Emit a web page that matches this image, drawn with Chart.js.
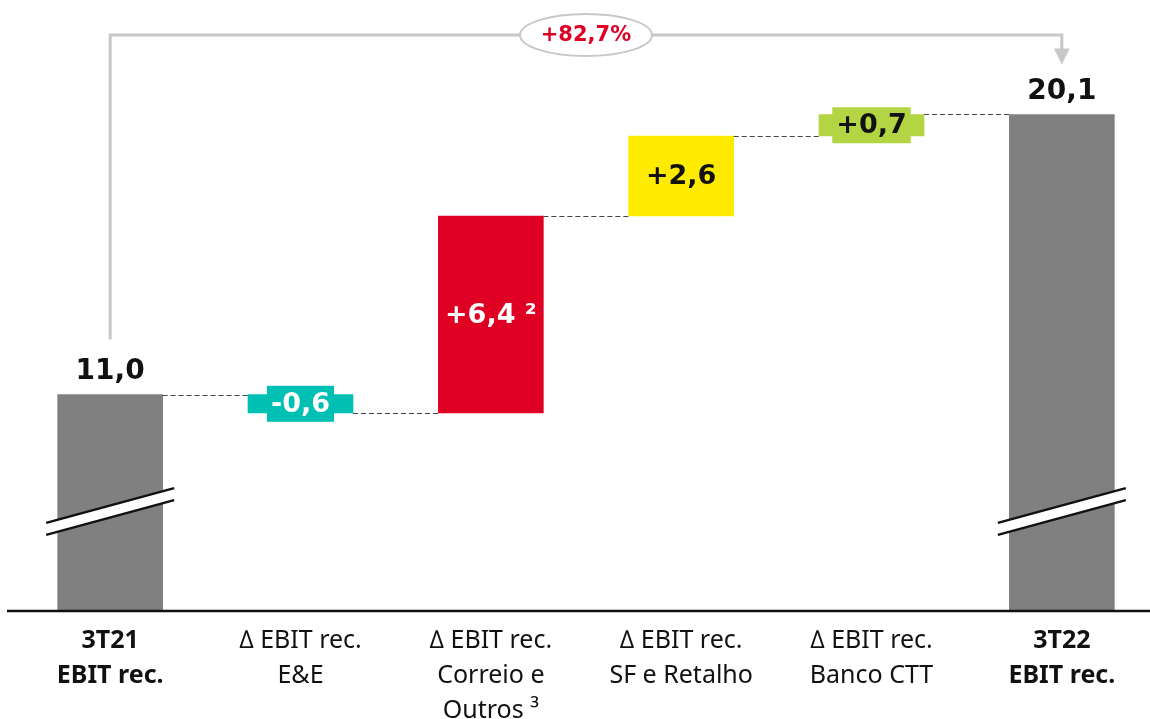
<!DOCTYPE html>
<html>
<head>
<meta charset="utf-8">
<script src="https://cdn.jsdelivr.net/npm/chart.js@4.4.1/dist/chart.umd.min.js"></script>
<style>
  html, body { margin: 0; padding: 0; background: #fff; overflow: hidden; }
  #box { width: 1150px; height: 719px; overflow: hidden; position: relative; }
  canvas { position: absolute; left: 0; top: 0; }
</style>
</head>
<body>
<div id="box"><canvas id="myChart" width="1160" height="741"></canvas></div>
<script>
  // data
  const categories = [
    ["3T21", "EBIT rec."],
    ["∆ EBIT rec.", "E&E"],
    ["∆ EBIT rec.", "Correio e", "Outros ³"],
    ["∆ EBIT rec.", "SF e Retalho"],
    ["∆ EBIT rec.", "Banco CTT"],
    ["3T22", "EBIT rec."],
  ];
  const startTotal = 11.0;
  const changes = [-0.6, 6.4, 2.6, 0.7];
  const endTotal = 20.1;
  const valueLabels = ["11,0", "-0,6", "+6,4 ²", "+2,6", "+0,7", "20,1"];
  const growthLabel = "+82,7%";
  const axisFloor = 4; // broken axis starts here
  const breakValue = 7.2;

  const barColors = ["#808080", "#00BFB3", "#E00024", "#FFEB00", "#B3D443", "#808080"];
  const labelColors = ["#111", "#fff", "#fff", "#111", "#111", "#111"];
  const boxedLabels = [false, true, false, false, true, false];

  // build floating ranges
  const ranges = [[axisFloor, startTotal]];
  let level = startTotal;
  changes.forEach((c) => {
    const next = Math.round((level + c) * 10) / 10;
    ranges.push([level, next]);
    level = next;
  });
  ranges.push([axisFloor, endTotal]);

  const FONT = "'DejaVu Sans', 'Noto Sans', sans-serif";
  const TICKFONT = "'Noto Sans', 'Open Sans', sans-serif";

  const waterfallPlugin = {
    id: "waterfall",
    afterDatasetsDraw(chart) {
      const ctx = chart.ctx;
      const meta = chart.getDatasetMeta(0);
      const y = chart.scales.y;
      const area = chart.chartArea;
      const bars = meta.data;

      ctx.save();
      // dashed connectors
      ctx.strokeStyle = "#444";
      ctx.lineWidth = 1;
      ctx.setLineDash([5, 3]);
      for (let i = 0; i < bars.length - 1; i++) {
        const lv = ranges[i][1];
        const py = Math.round(y.getPixelForValue(lv)) + 0.5;
        ctx.beginPath();
        ctx.moveTo(bars[i].x + bars[i].width / 2, py);
        ctx.lineTo(bars[i + 1].x - bars[i + 1].width / 2, py);
        ctx.stroke();
      }
      ctx.setLineDash([]);

      // axis line
      ctx.strokeStyle = "#111";
      ctx.lineWidth = 2.5;
      ctx.beginPath();
      ctx.moveTo(7, area.bottom + 1);
      ctx.lineTo(1150, area.bottom + 1);
      ctx.stroke();

      // break marks on total bars
      [0, bars.length - 1].forEach((i) => {
        const b = bars[i];
        const cy = y.getPixelForValue(breakValue);
        const dx = 64, slope = 0.271, gap = 6;
        const x0 = b.x - dx, x1 = b.x + dx;
        const yA0 = cy - gap + dx * slope, yA1 = cy - gap - dx * slope;
        const yB0 = cy + gap + dx * slope, yB1 = cy + gap - dx * slope;
        ctx.fillStyle = "#fff";
        ctx.beginPath();
        ctx.moveTo(x0, yA0); ctx.lineTo(x1, yA1); ctx.lineTo(x1, yB1); ctx.lineTo(x0, yB0);
        ctx.closePath();
        ctx.fill();
        ctx.strokeStyle = "#111";
        ctx.lineWidth = 2.5;
        ctx.beginPath();
        ctx.moveTo(x0, yA0); ctx.lineTo(x1, yA1);
        ctx.moveTo(x0, yB0); ctx.lineTo(x1, yB1);
        ctx.stroke();
      });

      // value labels
      ctx.textAlign = "center";
      ctx.textBaseline = "middle";
      bars.forEach((b, i) => {
        const isTotal = i === 0 || i === bars.length - 1;
        let ly;
        if (isTotal) {
          ctx.font = "bold 28px " + FONT;
          ly = y.getPixelForValue(ranges[i][1]) - 24;
        } else {
          ctx.font = "bold 27px " + FONT;
          ly = (y.getPixelForValue(ranges[i][0]) + y.getPixelForValue(ranges[i][1])) / 2;
        }
        if (boxedLabels[i]) {
          const w = ctx.measureText(valueLabels[i]).width + 8;
          ctx.fillStyle = barColors[i];
          ctx.fillRect(b.x - w / 2, ly - 18, w, 36);
        }
        ctx.fillStyle = labelColors[i];
        ctx.fillText(valueLabels[i], b.x, ly + 1);
      });

      // growth bracket
      const first = bars[0], last = bars[bars.length - 1];
      const topY = 35;
      const startY = y.getPixelForValue(ranges[0][1]) - 55;
      const tipY = y.getPixelForValue(ranges[ranges.length - 1][1]) - 50;
      ctx.strokeStyle = "#C8C8C8";
      ctx.lineWidth = 3;
      ctx.beginPath();
      ctx.moveTo(first.x, startY);
      ctx.lineTo(first.x, topY);
      ctx.lineTo(last.x, topY);
      ctx.lineTo(last.x, tipY - 14);
      ctx.stroke();
      ctx.fillStyle = "#C8C8C8";
      ctx.beginPath();
      ctx.moveTo(last.x - 8, tipY - 16);
      ctx.lineTo(last.x + 8, tipY - 16);
      ctx.lineTo(last.x, tipY);
      ctx.closePath();
      ctx.fill();

      const ex = (first.x + last.x) / 2;
      ctx.fillStyle = "#fff";
      ctx.lineWidth = 2;
      ctx.beginPath();
      ctx.ellipse(ex, topY, 66, 21, 0, 0, Math.PI * 2);
      ctx.fill();
      ctx.stroke();
      ctx.fillStyle = "#E00024";
      ctx.font = "bold 21px " + FONT;
      ctx.fillText(growthLabel, ex, topY + 1);
      ctx.restore();
    },
  };

  const data = {
    labels: categories,
    datasets: [
      {
        data: ranges,
        backgroundColor: barColors,
        borderWidth: 0,
        borderSkipped: false,
        barThickness: 105,
      },
    ],
  };

  const config = {
    type: "bar",
    data: data,
    options: {
      responsive: false,
      animation: false,
      layout: { padding: { top: 56, left: 15, right: 3, bottom: 0 } },
      plugins: { legend: { display: false }, tooltip: { enabled: false } },
      scales: {
        x: {
          grid: { display: false, drawTicks: false },
          border: { display: false },
          ticks: {
            color: "#111",
            padding: 13,
            maxRotation: 0,
            autoSkip: false,
            font: (c) => ({
              family: TICKFONT,
              size: 25,
              lineHeight: 1.4,
              weight: c.index === 0 || c.index === 5 ? "bold" : "normal",
            }),
          },
        },
        y: { display: false, min: axisFloor, max: 22 },
      },
    },
    plugins: [waterfallPlugin],
  };

  const myChart = new Chart(document.getElementById("myChart"), config);
</script>
</body>
</html>
